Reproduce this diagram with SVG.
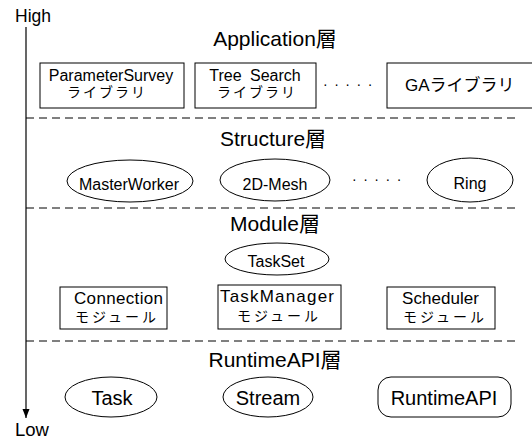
<svg xmlns="http://www.w3.org/2000/svg" width="532" height="440" viewBox="0 0 532 440">
<style>
text{font-family:"Liberation Sans","Noto Sans CJK JP",sans-serif;fill:#000}
.t{font-size:21px;text-anchor:middle}
.b{font-size:16px;text-anchor:middle}
.k{font-size:14px;letter-spacing:2px}
.km{font-size:14px;letter-spacing:3px}
.n{fill:#fff;stroke:#000;stroke-width:1}
.d{stroke:#000;stroke-width:1;stroke-dasharray:8,5;fill:none}
.dot{font-size:14px}
</style>
<rect width="532" height="440" fill="#fff"/>
<g id="axis">
<line x1="26" y1="27" x2="26" y2="418" stroke="#000" stroke-width="1.2"/>
<path d="M22.5,409 L26,418 L29.5,409 Z" fill="#000"/>
<text x="15" y="22" font-size="17.5">High</text>
<text x="15" y="436" font-size="18.5">Low</text>
</g>
<g id="separators">
<line class="d" x1="26" y1="118" x2="516" y2="118"/>
<line class="d" x1="26" y1="208" x2="516" y2="208"/>
<line class="d" x1="26" y1="341" x2="516" y2="341"/>
</g>
<g id="titles">
<text class="t" x="275" y="46">Application層</text>
<text class="t" x="273" y="146">Structure層</text>
<text class="t" x="275" y="231">Module層</text>
<text class="t" x="275" y="367">RuntimeAPI層</text>
</g>
<g id="app-param">
<rect class="n" x="40" y="63" width="144" height="45"/>
<text class="b" x="111" y="81">ParameterSurvey</text>
<text class="k" x="67" y="97">ライブラリ</text>
</g>
<g id="app-tree">
<rect class="n" x="195" y="63" width="121" height="45"/>
<text class="b" x="255" y="81" word-spacing="4">Tree Search</text>
<text class="k" x="217" y="97">ライブラリ</text>
</g>
<g id="app-dots">
<text class="dot" x="323" y="89" letter-spacing="6.5">·····</text>
</g>
<g id="app-ga">
<rect class="n" x="387" y="63" width="150" height="45"/>
<text x="405" y="91" font-size="17">GAライブラリ</text>
</g>
<g id="masterworker">
<ellipse class="n" cx="130" cy="181" rx="63" ry="21"/>
<text class="b" x="129" y="190">MasterWorker</text>
</g>
<g id="mesh">
<ellipse class="n" cx="275" cy="180" rx="55" ry="21"/>
<text class="b" x="275" y="190">2D-Mesh</text>
</g>
<g id="str-dots">
<text class="dot" x="352" y="184" letter-spacing="6.5">·····</text>
</g>
<g id="ring">
<ellipse class="n" cx="470" cy="180" rx="43" ry="22"/>
<text class="b" x="470" y="189">Ring</text>
</g>
<g id="taskset">
<ellipse class="n" cx="277" cy="259" rx="52" ry="16"/>
<text class="b" x="276" y="267">TaskSet</text>
</g>
<g id="connection">
<rect class="n" x="60" y="287" width="107" height="42"/>
<text x="74" y="304" font-size="17" textLength="89" lengthAdjust="spacing">Connection</text>
<text class="km" x="75" y="322">モジュール</text>
</g>
<g id="taskmanager">
<rect class="n" x="218" y="285" width="123" height="44"/>
<text x="220" y="302" font-size="17" textLength="114" lengthAdjust="spacing">TaskManager</text>
<text class="km" x="237" y="321">モジュール</text>
</g>
<g id="scheduler">
<rect class="n" x="387" y="287" width="108" height="42"/>
<text x="402" y="304" font-size="17" textLength="77" lengthAdjust="spacing">Scheduler</text>
<text class="km" x="403" y="322">モジュール</text>
</g>
<g id="task">
<ellipse class="n" cx="111" cy="397" rx="46" ry="20"/>
<text x="112" y="405" font-size="20" text-anchor="middle">Task</text>
</g>
<g id="stream">
<ellipse class="n" cx="268" cy="397" rx="45" ry="20"/>
<text x="268" y="405" font-size="20" text-anchor="middle">Stream</text>
</g>
<g id="runtimeapi">
<rect class="n" x="378" y="377" width="133" height="40" rx="13" ry="13"/>
<text x="444" y="405" font-size="20" text-anchor="middle">RuntimeAPI</text>
</g>
</svg>
